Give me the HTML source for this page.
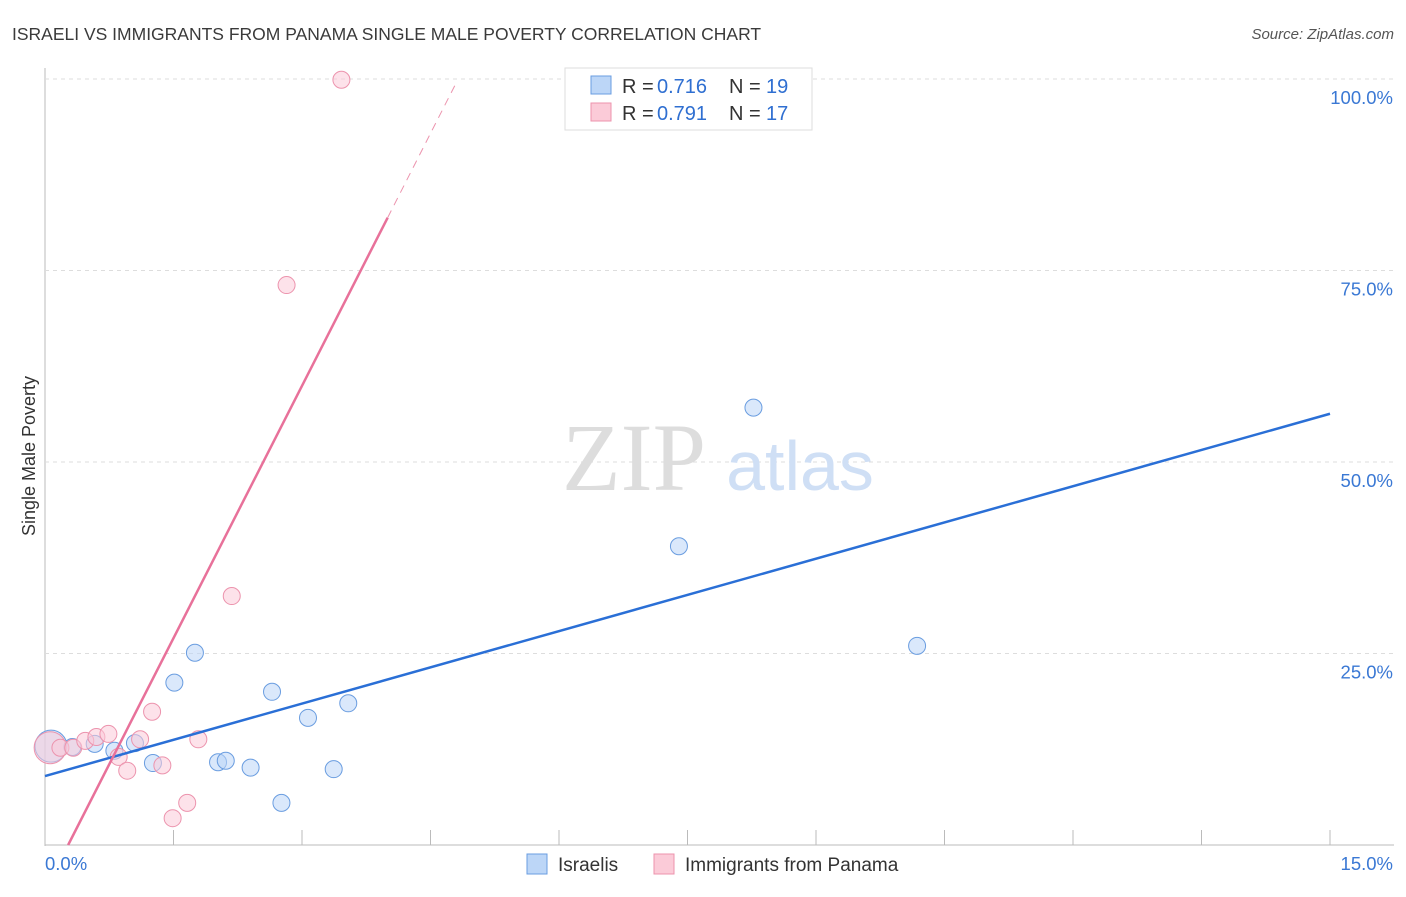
<!DOCTYPE html>
<html><head><meta charset="utf-8"><style>
body{margin:0;background:#fff;font-family:"Liberation Sans",sans-serif}
</style></head><body>
<svg width="1406" height="892" xmlns="http://www.w3.org/2000/svg">
<text x="12" y="40" font-size="17.5" fill="#3a3a3a">ISRAELI VS IMMIGRANTS FROM PANAMA SINGLE MALE POVERTY CORRELATION CHART</text>
<text x="1394" y="39" font-size="15" fill="#555" font-style="italic" text-anchor="end">Source: ZipAtlas.com</text>
<g id="grid"></g>
<text x="634" y="490" font-size="96" fill="#ddd" font-family="Liberation Serif" text-anchor="middle">ZIP</text>
<text x="800" y="490" font-size="70" fill="#cfdff5" text-anchor="middle">atlas</text>
<g id="marks"></g>
<text x="35" y="456" font-size="18" fill="#333" text-anchor="middle" transform="rotate(-90 35 456)">Single Male Poverty</text>
<g>
<rect x="565" y="68" width="247" height="62" fill="#fff" stroke="#ddd"/>
<rect x="591" y="76" width="20" height="18" fill="#bcd6f7" stroke="#6a9de0"/>
<text x="622" y="93" font-size="20" fill="#333">R =</text>
<text x="657" y="93" font-size="20" fill="#2f6fd1">0.716</text>
<text x="729" y="93" font-size="20" fill="#333">N =</text>
<text x="766" y="93" font-size="20" fill="#2f6fd1">19</text>
<rect x="591" y="103" width="20" height="18" fill="#fbcbd8" stroke="#ec93ad"/>
<text x="622" y="120" font-size="20" fill="#333">R =</text>
<text x="657" y="120" font-size="20" fill="#2f6fd1">0.791</text>
<text x="729" y="120" font-size="20" fill="#333">N =</text>
<text x="766" y="120" font-size="20" fill="#2f6fd1">17</text>
</g>
<g>
<rect x="527" y="854" width="20" height="20" fill="#bcd6f7" stroke="#6a9de0"/>
<text x="558" y="871" font-size="19" fill="#333">Israelis</text>
<rect x="654" y="854" width="20" height="20" fill="#fbcbd8" stroke="#ec93ad"/>
<text x="685" y="871" font-size="19" fill="#333">Immigrants from Panama</text>
</g>
</svg>
<script>
const yTicks=[25,50,75,100];
const yTickLabels=["25.0%","50.0%","75.0%","100.0%"];
const xTicks=[0,1.5,3,4.5,6,7.5,9,10.5,12,13.5,15];
const israeliX=[0.07,0.32,0.58,0.81,1.05,1.26,1.51,1.75,2.02,2.11,2.40,2.65,2.76,3.07,3.37,3.54,7.40,8.27,10.18];
const israeliY=[12.9,12.8,13.2,12.3,13.3,10.7,21.2,25.1,10.8,11.0,10.1,20.0,5.5,16.6,9.9,18.5,39.0,57.1,26.0];
const panamaX=[0.06,0.18,0.33,0.47,0.60,0.74,0.86,0.96,1.11,1.25,1.37,1.49,1.66,1.79,2.18,2.82,3.46];
const panamaY=[12.7,12.7,12.7,13.6,14.1,14.5,11.5,9.7,13.8,17.4,10.4,3.5,5.5,13.8,32.5,73.1,99.9];
const israeliLine=[[0,9.0],[15,56.3]];
const panamaLine=[[0.27,0],[4.0,81.9]];
const panamaDash=[[4.0,81.9],[4.8,99.5]];
const X=v=>45+v/15*1285, Y=v=>845-v*7.66;
const NS="http://www.w3.org/2000/svg";
function mk(p,t,a){const e=document.createElementNS(NS,t);for(const k in a)e.setAttribute(k,a[k]);p.appendChild(e);return e;}
const g=document.getElementById('grid'), m=document.getElementById('marks');
let ax=mk(g,'line',{x1:45,y1:68,x2:45,y2:846,stroke:'#bbb'});

let bx=mk(g,'line',{x1:45,y1:845,x2:1394,y2:845,stroke:'#bbb'});

yTicks.forEach((t,i)=>{
 const l=mk(g,'line',{x1:45,y1:Y(t),x2:1394,y2:Y(t),stroke:'#ddd','stroke-dasharray':'4,4'});
 
 const tx=mk(g,'text',{x:1393,y:Y(t)+25,'font-size':18.5,fill:'#3a78d4','text-anchor':'end'});tx.textContent=yTickLabels[i];
 
});
xTicks.forEach((t,i)=>{if(i==0)return;
 const l=mk(g,'line',{x1:X(t),y1:830,x2:X(t),y2:845,stroke:'#bbb'});
 
});
let x0=mk(g,'text',{x:45,y:870,'font-size':18.5,fill:'#3a78d4'});x0.textContent='0.0%';

let x1=mk(g,'text',{x:1393,y:870,'font-size':18.5,fill:'#3a78d4','text-anchor':'end'});x1.textContent='15.0%';

function pts(xs,ys,fill,stroke,name){xs.forEach((v,i)=>{
 const c=mk(m,'circle',{cx:X(v),cy:Y(ys[i]),r:i==0?16:8.5,fill:fill,'fill-opacity':0.55,stroke:stroke,'stroke-width':1});
 });}
pts(israeliX,israeliY,'#bcd6f7','#6a9de0','israeli-point');
pts(panamaX,panamaY,'#fbcbd8','#ec93ad','panama-point');
function ln(d,col,dash,name){const l=mk(m,'line',{x1:X(d[0][0]),y1:Y(d[0][1]),x2:X(d[1][0]),y2:Y(d[1][1]),stroke:col,'stroke-width':dash?1:2.5});
 if(dash)l.setAttribute('stroke-dasharray','8,6');
 }
ln(israeliLine,'#2a6fd6',false,'israeli-trendline');
ln(panamaLine,'#e8719a',false,'panama-trendline');
ln(panamaDash,'#ec93ad',true,'panama-trendline-extension');
</script>
</body></html>
